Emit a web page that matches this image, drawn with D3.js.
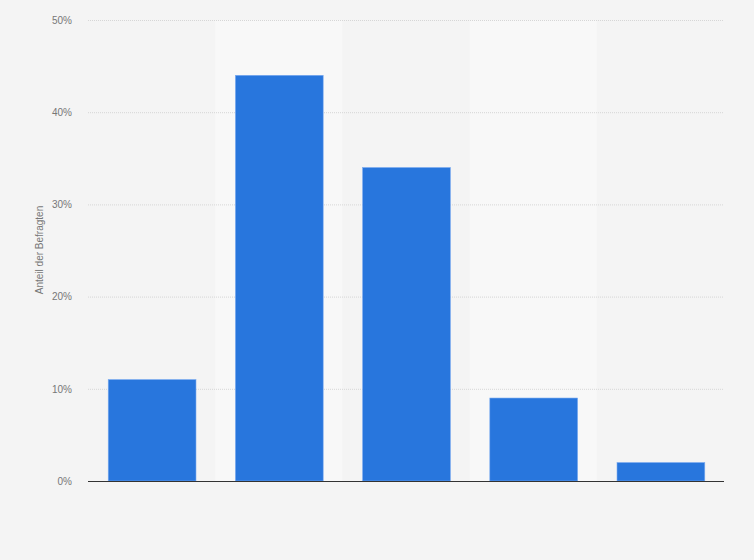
<!DOCTYPE html>
<html>
<head>
<meta charset="utf-8">
<script src="https://cdn.jsdelivr.net/npm/d3@7"></script>
<style>
  body { margin: 0; background: #f4f4f4; }
  svg { display: block; font-family: "Liberation Sans", Arial, sans-serif; }
</style>
</head>
<body>
<svg id="chart" width="754" height="560"></svg>
<script>
// categories have no visible labels in the picture
const categories = ["A", "B", "C", "D", "E"];
const values = [11, 44, 34, 9, 2];
const yTicks = [0, 10, 20, 30, 40, 50];
const yTitle = "Anteil der Befragten";

const margin = { top: 20, right: 30, bottom: 79, left: 88 };
const width = 754 - margin.left - margin.right;
const height = 560 - margin.top - margin.bottom;

const svg = d3.select("#chart");
svg.append("rect").attr("width", 754).attr("height", 560).attr("fill", "#f4f4f4");

const g = svg.append("g").attr("transform", `translate(${margin.left},${margin.top})`);

const x = d3.scaleBand().domain(categories).range([0, width]).paddingInner(0.31).paddingOuter(0.155);
const y = d3.scaleLinear().domain([0, 50]).range([height, 0]);

// alternating column shading
const step = x.step();
g.selectAll(".band")
  .data(categories.filter((d, i) => i % 2 === 1))
  .enter()
  .append("rect")
  .attr("x", (d) => x(d) - x.paddingInner() * step / 2)
  .attr("width", step)
  .attr("y", 0)
  .attr("height", height)
  .attr("fill", "#f8f8f8");

// grid lines
g.selectAll(".grid")
  .data(yTicks.filter((t) => t > 0))
  .enter()
  .append("line")
  .attr("x1", 0)
  .attr("x2", width)
  .attr("y1", (d) => y(d) + 0.5)
  .attr("y2", (d) => y(d) + 0.5)
  .attr("stroke", "#d6d6d6")
  .attr("stroke-dasharray", "1,1");

// y axis labels
const yAxis = g.append("g")
  .call(d3.axisLeft(y).tickValues(yTicks).tickFormat((d) => d + "%").tickSize(0).tickPadding(16));
yAxis.select(".domain").remove();
yAxis.selectAll("text").attr("fill", "#777").attr("font-size", 10);

// bars
g.selectAll(".bar")
  .data(values)
  .enter()
  .append("rect")
  .attr("x", (d, i) => x(categories[i]) + 0.5)
  .attr("width", x.bandwidth())
  .attr("y", (d) => y(d))
  .attr("height", (d) => height - y(d))
  .attr("fill", "#2876dd")
  .attr("stroke", "#7aaaf0")
  .attr("stroke-width", 0.6);

// baseline
g.append("line")
  .attr("x1", 0)
  .attr("x2", width)
  .attr("y1", height + 0.5)
  .attr("y2", height + 0.5)
  .attr("stroke", "#333")
  .attr("stroke-width", 1.2);

// y title
svg.append("text")
  .attr("transform", `translate(43,250) rotate(-90)`)
  .attr("text-anchor", "middle")
  .attr("font-size", 10)
  .attr("fill", "#777")
  .text(yTitle);
</script>
</body>
</html>
